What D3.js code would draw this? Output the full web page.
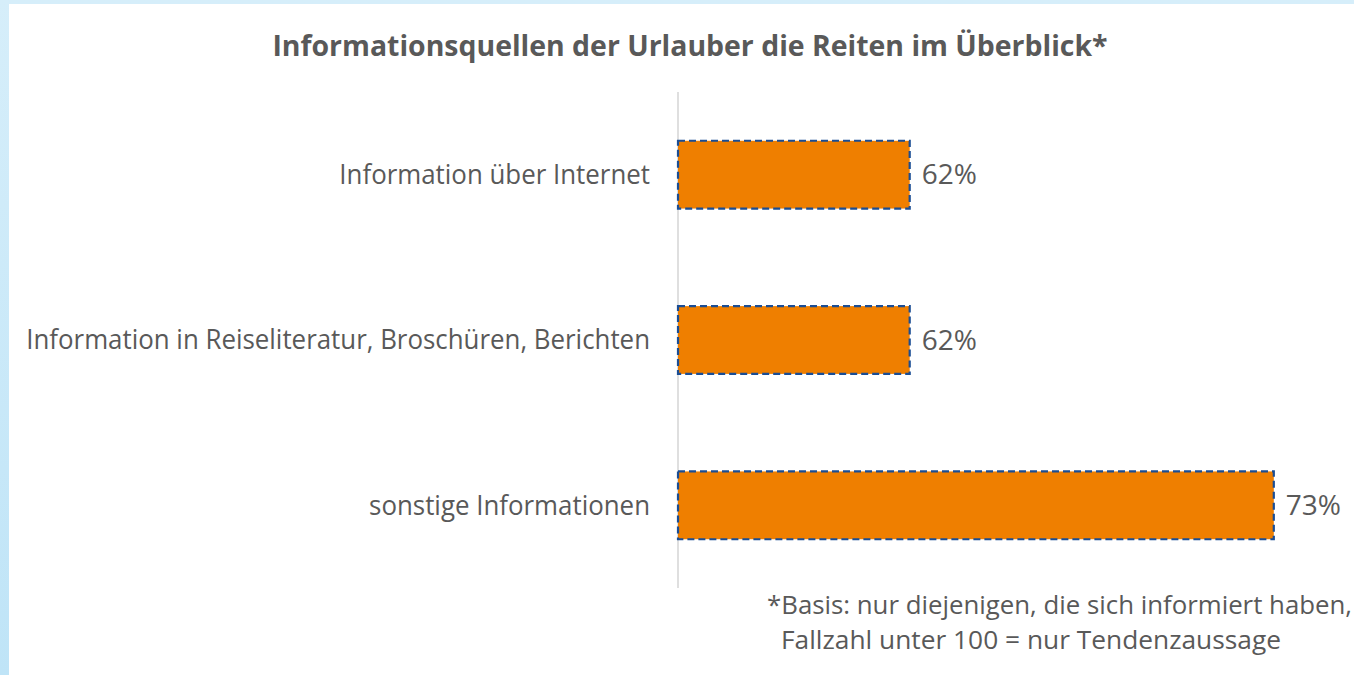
<!DOCTYPE html>
<meta charset="utf-8">
<script src="https://d3js.org/d3.v7.min.js"></script>
<style>
  body { margin: 0; background: #ffffff; }
  text { font-family: "Open Sans", "Noto Sans", sans-serif; }
</style>
<div id="chart"></div>
<script>

// data
var categories = ["Information über Internet", "Information in Reiseliteratur, Broschüren, Berichten", "sonstige Informationen"];
var values = [62, 62, 73];
var title = "Informationsquellen der Urlauber die Reiten im Überblick*";
var footnote = ["*Basis: nur diejenigen, die sich informiert haben,", "Fallzahl unter 100 = nur Tendenzaussage"];

var W = 1354, H = 675;

var svg = d3.select("#chart")
  .append("svg")
    .attr("width", W)
    .attr("height", H);

// squeeze text a bit, the original font is narrower than Open Sans
function squeeze(sel, f) {
  sel.each(function() {
    var n = this.getComputedTextLength();
    d3.select(this).attr("textLength", n * f).attr("lengthAdjust", "spacingAndGlyphs");
  });
}

// light blue frame on left and top
var grad = svg.append("defs").append("linearGradient")
    .attr("id", "frame").attr("x1", "0").attr("x2", "0").attr("y1", "0").attr("y2", "1");
grad.append("stop").attr("offset", "0").attr("stop-color", "#d6eefa");
grad.append("stop").attr("offset", "1").attr("stop-color", "#bfe4f7");
svg.append("rect").attr("width", W).attr("height", H).attr("fill", "url(#frame)");
svg.append("rect").attr("x", 9).attr("y", 4).attr("width", W - 9).attr("height", H - 4).attr("fill", "#fff");

var x = d3.scaleLinear().domain([55, 75]).range([678, 1340]);
var y = d3.scaleBand().domain(categories).range([92, 588]).paddingInner(0.59).paddingOuter(0.295);

// title
var t = svg.append("text")
    .attr("x", 690).attr("y", 56)
    .attr("text-anchor", "middle")
    .style("font-size", "29px").style("font-weight", "bold")
    .style("fill", "#595959")
    .text(title);
squeeze(t, 0.98);

// axis line
svg.append("line")
    .attr("x1", x(55)).attr("x2", x(55))
    .attr("y1", 92).attr("y2", 588)
    .style("stroke", "#d4d4d4").style("stroke-width", 1.5);

var rows = categories.map(function(c, i) { return {cat: c, val: values[i]}; });

svg.selectAll("rect.bar")
  .data(rows)
  .enter()
  .append("rect")
    .attr("class", "bar")
    .attr("x", x(55))
    .attr("y", function(d) { return y(d.cat); })
    .attr("width", function(d) { return x(d.val) - x(55); })
    .attr("height", y.bandwidth())
    .style("fill", "#ef7f00")
    .style("stroke", "#1a4d94")
    .style("stroke-width", 2.2)
    .style("stroke-dasharray", "7,4");

// category labels
var cats = svg.selectAll("text.cat")
  .data(rows)
  .enter()
  .append("text")
    .attr("class", "cat")
    .attr("x", 650)
    .attr("y", function(d) { return y(d.cat) + y.bandwidth() / 2; })
    .attr("dy", "0.35em")
    .attr("text-anchor", "end")
    .style("font-size", "27px")
    .style("fill", "#595959")
    .text(function(d) { return d.cat; });
squeeze(cats, 0.958);

// value labels
svg.selectAll("text.val")
  .data(rows)
  .enter()
  .append("text")
    .attr("class", "val")
    .attr("x", function(d) { return x(d.val) + 12; })
    .attr("y", function(d) { return y(d.cat) + y.bandwidth() / 2; })
    .attr("dy", "0.35em")
    .style("font-size", "28px")
    .style("fill", "#595959")
    .text(function(d) { return d.val + "%"; });

// footnote, second line indented
var notes = svg.selectAll("text.note")
  .data(footnote)
  .enter()
  .append("text")
    .attr("class", "note")
    .attr("x", function(d, i) { return i ? 781 : 767; })
    .attr("y", function(d, i) { return 614 + i * 35; })
    .style("font-size", "25px")
    .style("fill", "#595959")
    .text(function(d) { return d; });
var spans = [585, 500];
notes.each(function(d, i) {
  d3.select(this).attr("textLength", spans[i]).attr("lengthAdjust", "spacingAndGlyphs");
});

</script>
